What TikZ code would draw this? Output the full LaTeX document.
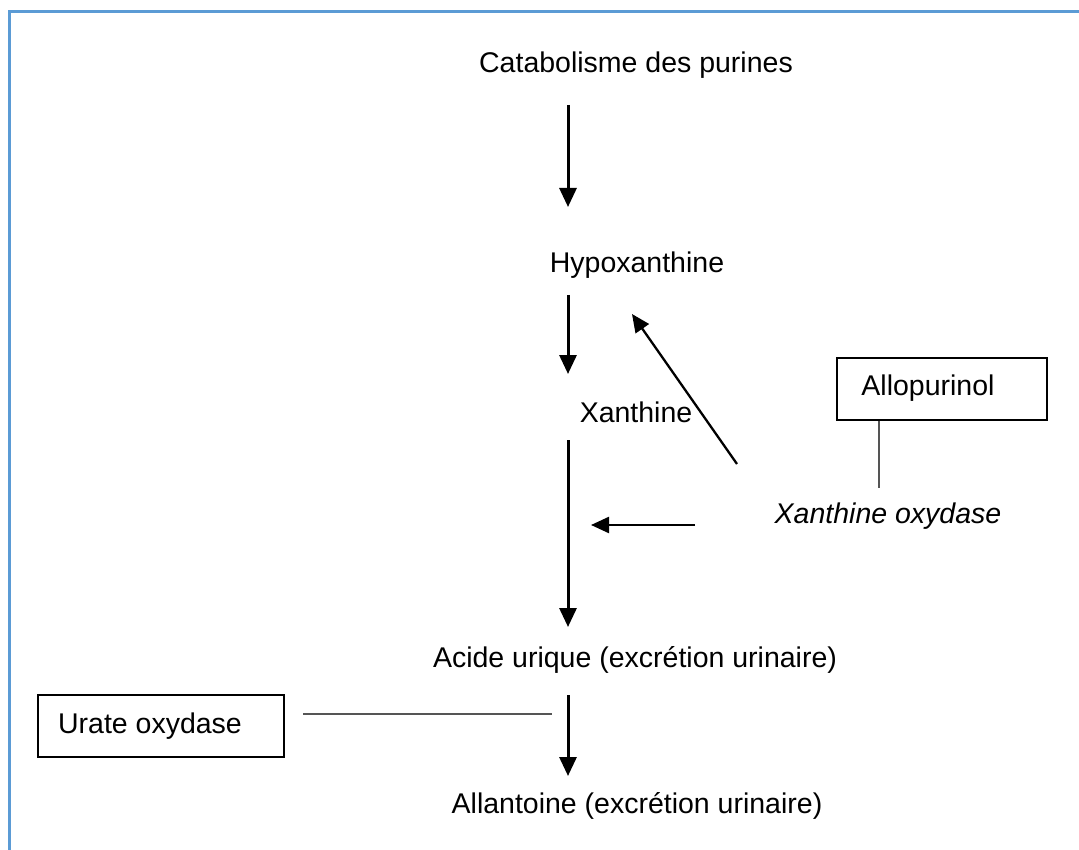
\documentclass[tikz,border=0pt]{standalone}
\usepackage{fontspec}
\setmainfont{Liberation Sans}
\usetikzlibrary{arrows.meta}
\definecolor{frameblue}{HTML}{5B9BD5}
\definecolor{linegray}{HTML}{555555}
\tikzset{
  lbl/.style={inner sep=0pt, anchor=base, font=\fontsize{28.5}{34}\selectfont},
  boxnode/.style={draw, line width=2pt, minimum width=#1, minimum height=62pt, inner sep=0pt},
  flow/.style={line width=3pt, -{Triangle[length=19pt,width=17pt]}},
  thinflow/.style={line width=2.3pt, -{Triangle[length=18pt,width=16pt]}},
  link/.style={line width=1.6pt, draw=linegray}
}
\begin{document}
\begin{tikzpicture}[x=1pt,y=-1pt]
\useasboundingbox (0,0) rectangle (1079,850);
\fill[white] (0,0) rectangle (1079,850);
% frame
\draw[frameblue, line width=3pt] (9,850) -- (9,12) -- (1079,12);
% labels
\node[lbl] (cat) at (636,73) {Catabolisme des purines};
\node[lbl] (hyp) at (637,273) {Hypoxanthine};
\node[lbl] (xan) at (636,422) {Xanthine};
\node[lbl] (acu) at (635,667) {Acide urique (excrétion urinaire)};
\node[lbl] (all) at (637,813) {Allantoine (excrétion urinaire)};
\node[lbl, font=\fontsize{28.5}{34}\selectfont\itshape] (xo) at (888,523) {Xanthine oxydase};
% boxes
\node[boxnode=210pt] (allo) at (942,388.5) {};
\node[lbl] (allot) at (928,395) {Allopurinol};
\node[boxnode=246pt] (uo) at (161,726) {};
\node[lbl] (uot) at (150,733) {Urate oxydase};
% arrow coordinates
\coordinate (a1s) at (568,105);
\coordinate (a1e) at (568,207);
\coordinate (a2s) at (568,295);
\coordinate (a2e) at (568,374);
\coordinate (a3s) at (568,440);
\coordinate (a3e) at (568,627);
\coordinate (a4s) at (568,695);
\coordinate (a4e) at (568,776);
\coordinate (ds) at (737,464);
\coordinate (de) at (632,314);
\coordinate (hs) at (695,525);
\coordinate (he) at (591,525);
\coordinate (allolink) at (879,488);
\coordinate (uolink) at (552,714);
\coordinate (uostart) at (303,714);
% main flow
\draw[flow] (a1s) -- (a1e);
\draw[flow] (a2s) -- (a2e);
\draw[flow] (a3s) -- (a3e);
\draw[flow] (a4s) -- (a4e);
% enzyme arrows
\draw[thinflow] (ds) -- (de);
\draw[thinflow] (hs) -- (he);
% links
\draw[link] (allo.south -| allolink) -- (allolink);
\draw[link] (uostart) -- (uolink);
\end{tikzpicture}
\end{document}
